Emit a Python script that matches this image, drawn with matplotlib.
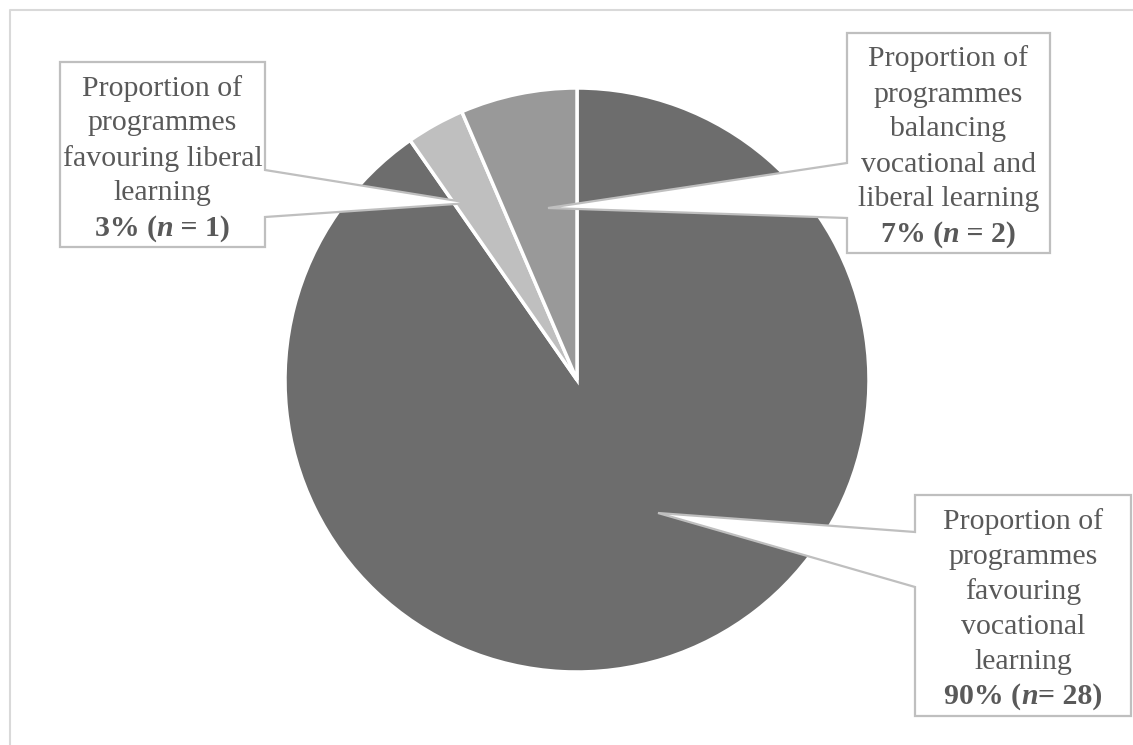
import matplotlib
matplotlib.use("Agg")
import matplotlib.pyplot as plt
from matplotlib.patches import Polygon
from matplotlib.lines import Line2D

plt.rcParams['font.family'] = ['Liberation Serif', 'DejaVu Serif']

# ---- data ----
categories = ["favouring vocational learning",
              "favouring liberal learning",
              "balancing vocational and liberal learning"]
counts = [28, 1, 2]
percents = [90, 3, 7]
colors = ["#6d6d6d", "#bfbfbf", "#999999"]

label_lines = [
    ["Proportion of", "programmes", "favouring", "vocational", "learning"],
    ["Proportion of", "programmes", "favouring liberal", "learning"],
    ["Proportion of", "programmes", "balancing", "vocational and", "liberal learning"],
]
# bold stat line split into (upright, italic, upright) pieces
stat_pieces = [
    ("90% (", "n", "= 28)"),
    ("3% (", "n", " = 1)"),
    ("7% (", "n", " = 2)"),
]

# ---- layout (pixel coordinates, y from top) ----
W, H = 1133, 745
callouts = [
    dict(box=(915, 495, 1131, 716), side='left', base=(532, 587), tip=(658, 513)),
    dict(box=(60, 62, 265, 247), side='right', base=(170, 217), tip=(470, 203)),
    dict(box=(847, 33, 1050, 253), side='left', base=(163, 218), tip=(548, 208)),
]
pie_center = (577, 380)
pie_radius = 292
line_pitch = 35
fs = 21.5
text_color = "#595959"

fig = plt.figure(figsize=(W / 100, H / 100), dpi=100)
ax = fig.add_axes([0, 0, 1, 1])

def Y(py):
    return H - py

ax.pie(counts, colors=colors, startangle=90, counterclock=False,
       center=(pie_center[0], Y(pie_center[1])), radius=pie_radius,
       wedgeprops=dict(edgecolor='white', linewidth=2.5))
ax.set_xlim(0, W)
ax.set_ylim(0, H)
ax.set_aspect('equal')
ax.axis('off')

# outer frame
ax.add_line(Line2D([10, 10, W + 5], [Y(H + 5), Y(10), Y(10)], color="#d9d9d9", lw=1.5, zorder=1))

renderer = fig.canvas.get_renderer()

def text_width(s, **kw):
    t1 = ax.text(0, 0, "|" + s, fontsize=fs, fontweight='bold', **kw)
    t2 = ax.text(0, 0, "|", fontsize=fs, fontweight='bold', **kw)
    w = t1.get_window_extent(renderer).width - t2.get_window_extent(renderer).width
    t1.remove(); t2.remove()
    return w

for c, lines, pieces in zip(callouts, label_lines, stat_pieces):
    x0, y0, x1, y1 = c['box']
    b0, b1 = c['base']
    tx, ty = c['tip']
    if c['side'] == 'left':
        pts = [(x0, y0), (x1, y0), (x1, y1), (x0, y1), (x0, b1), (tx, ty), (x0, b0)]
    else:
        pts = [(x0, y0), (x1, y0), (x1, b0), (tx, ty), (x1, b1), (x1, y1), (x0, y1)]
    poly = Polygon([(px, Y(py)) for px, py in pts], closed=True,
                   facecolor='white', edgecolor='#bfbfbf', lw=1.6, zorder=5,
                   joinstyle='miter')
    ax.add_patch(poly)
    n = len(lines) + 1
    cx = (x0 + x1) / 2
    cy = (y0 + y1) / 2
    for i, t in enumerate(lines):
        lc = cy + (i - (n - 1) / 2) * line_pitch
        ax.text(cx, Y(lc + 11), t, ha='center', va='baseline', fontsize=fs,
                color=text_color, zorder=6)
    # stat line
    lc = cy + ((n - 1) - (n - 1) / 2) * line_pitch
    styles = ['normal', 'italic', 'normal']
    widths = [text_width(p, fontstyle=s) for p, s in zip(pieces, styles)]
    x = cx - sum(widths) / 2
    for p, s, w in zip(pieces, styles, widths):
        ax.text(x, Y(lc + 11), p, ha='left', va='baseline', fontsize=fs,
                fontweight='bold', fontstyle=s, color=text_color, zorder=6)
        x += w

fig.savefig("out.png", dpi=100)
